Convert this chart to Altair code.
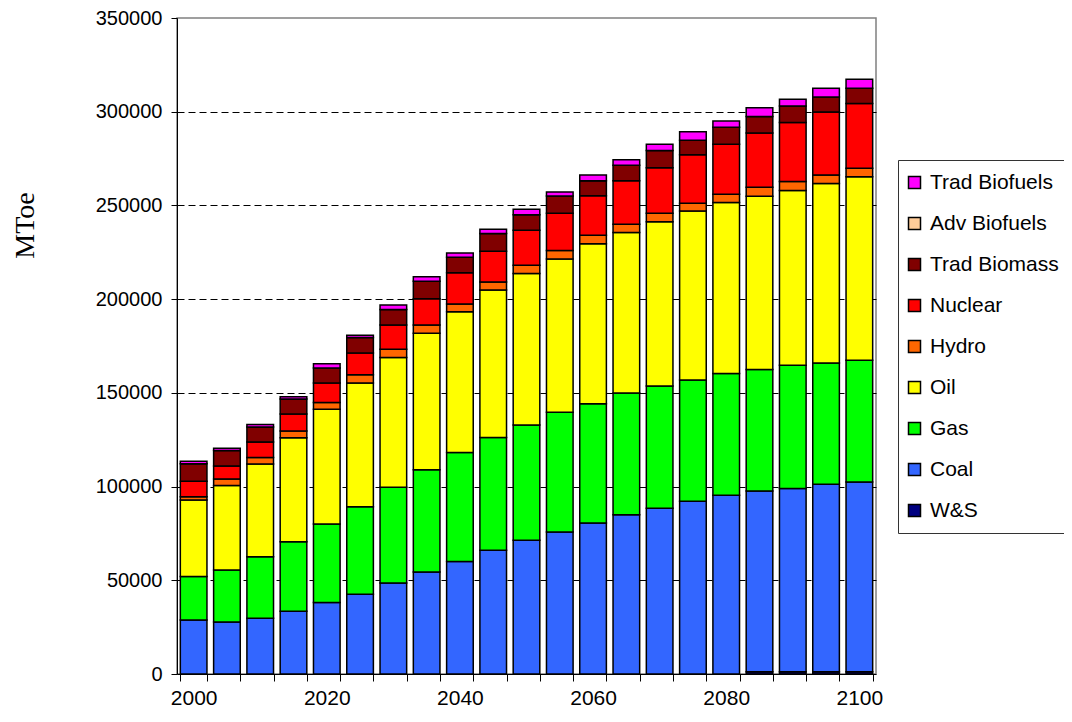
import altair as alt
import pandas as pd

years = list(range(2000, 2101, 5))

ws = [0] * 17 + [1200, 1200, 1200, 1200]
coal = [28800, 27700, 29700, 33500, 38100, 42600, 48600, 54400, 60000, 66000, 71400,
        75800, 80500, 85000, 88500, 92200, 95400, 96500, 97800, 100000, 101300]
gas = [23200, 27800, 32800, 37000, 41900, 46700, 51100, 54600, 58200, 60200, 61400,
       63900, 63700, 64900, 65100, 64700, 64900, 64700, 65700, 64700, 64900]
oil = [40800, 45100, 49500, 55500, 61200, 66000, 69100, 72800, 75100, 78700, 80900,
       81700, 85400, 85600, 87700, 90100, 91300, 92500, 93300, 95800, 97900]
hydro = [1800, 3500, 3500, 3600, 3700, 4400, 4500, 4400, 4100, 4300, 4400,
         4500, 4500, 4500, 4500, 4200, 4300, 4800, 4800, 4600, 4600]
nuclear = [8200, 6900, 8300, 9100, 10300, 11500, 12900, 14000, 16700, 16300, 18600,
           19900, 21100, 23200, 24300, 25900, 26800, 28900, 31400, 33500, 34500]
trad_biomass = [9400, 8300, 8000, 8000, 8000, 8300, 8300, 9400, 8200, 9500, 8300,
                9200, 8000, 8200, 9200, 7700, 9000, 8900, 8900, 8100, 8100]
adv_biofuels = [0] * 21
trad_biofuels = [1300, 1100, 1300, 1200, 2300, 1300, 2400, 2300, 2300, 2300, 2900,
                 2200, 3000, 3000, 3300, 4500, 3300, 4600, 3600, 4600, 4800]

# stacking order bottom -> top
series_names = ["W&S", "Coal", "Gas", "Oil", "Hydro", "Nuclear",
                "Trad Biomass", "Adv Biofuels", "Trad Biofuels"]
series_values = [ws, coal, gas, oil, hydro, nuclear, trad_biomass, adv_biofuels, trad_biofuels]
series_colors = ["#000080", "#3366FF", "#00FF00", "#FFFF00", "#FF6600", "#FF0000",
                 "#800000", "#FFCC99", "#FF00FF"]

rows = []
for rank, (name, vals) in enumerate(zip(series_names, series_values)):
    for y, v in zip(years, vals):
        rows.append({"year": y, "source": name, "value": v, "rank": rank})
df = pd.DataFrame(rows)

legend_order = series_names[::-1]
legend_colors = series_colors[::-1]

FONT = "Liberation Sans"

chart = alt.Chart(df).mark_bar(stroke="black", strokeWidth=1.5).encode(
    x=alt.X("year:O", title=None,
            scale=alt.Scale(paddingInner=0.2, paddingOuter=0.1),
            axis=alt.Axis(labelAngle=0, tickBand="extent",
                          labelExpr="datum.value % 20 === 0 ? datum.label : ''",
                          labelOverlap=False, labelFont=FONT, labelFontSize=21,
                          labelColor="black", tickColor="black", tickSize=7,
                          domainColor="black", labelPadding=6, grid=False)),
    y=alt.Y("value:Q", stack="zero",
            scale=alt.Scale(domain=[0, 350000], nice=False),
            axis=alt.Axis(values=list(range(0, 350001, 50000)), format="d",
                          title="MToe", titleFont="Liberation Serif", titleFontSize=28,
                          titleFontWeight="normal", titleColor="black",
                          titleAngle=270, titleX=-152, titleY=207,
                          titleAlign="center", titleBaseline="middle",
                          labelFont=FONT, labelFontSize=20, labelColor="black",
                          tickColor="black", tickSize=6, labelPadding=9,
                          domainColor="black",
                          grid=True, gridColor="black", gridDash=[7, 4], gridWidth=1,
                          gridOpacity={"condition": {"test": "datum.value === 0 || datum.value === 350000",
                                                     "value": 0}, "value": 1})),
    color=alt.Color("source:N",
                    scale=alt.Scale(domain=legend_order, range=legend_colors),
                    sort=legend_order,
                    legend=alt.Legend(title=None, orient="none", legendX=721, legendY=142,
                                      symbolType="square", symbolSize=144,
                                      symbolStrokeColor="black", symbolStrokeWidth=1.5,
                                      symbolOffset=-6,
                                      labelFont=FONT, labelFontSize=21, labelColor="black",
                                      labelOffset=5, rowPadding=19, padding=12,
                                      strokeColor="#333333", labelLimit=300)),
    order=alt.Order("rank:Q", sort="ascending"),
).properties(
    width=699,
    height=656,
    autosize=alt.AutoSizeParams(type="none"),
    padding={"left": 169, "top": 10, "right": 188, "bottom": 38},
).configure_view(
    stroke="#808080", strokeWidth=1.5
)

chart.save("out.html", embed_options={"renderer": "svg", "actions": False})
